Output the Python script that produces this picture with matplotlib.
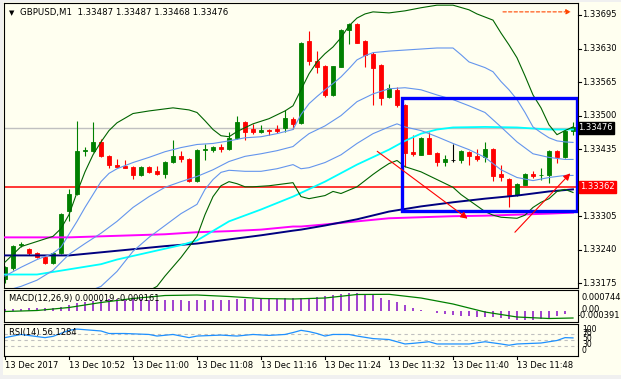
import matplotlib
matplotlib.use("Agg")
import matplotlib.pyplot as plt
from matplotlib.patches import Rectangle
import numpy as np

plt.rcParams['font.family'] = ['DejaVu Sans']

# GBPUSD M1 bars, 13 Dec 2017 10:44 .. 11:55
opens = [1.33183, 1.33204, 1.33249, 1.33241, 1.33233, 1.33226, 1.33215, 1.33233, 1.33315, 1.33349,
         1.33431, 1.33432, 1.33448, 1.33422, 1.33405, 1.33403, 1.33401, 1.33384, 1.33400, 1.33393,
         1.33387, 1.33410, 1.33421, 1.33416, 1.33373, 1.33433, 1.33433, 1.33440, 1.33435, 1.33457,
         1.33488, 1.33474, 1.33468, 1.33473, 1.33474, 1.33476, 1.33494, 1.33486, 1.33645, 1.33605,
         1.33596, 1.33540, 1.33595, 1.33665, 1.33678, 1.33645, 1.33619, 1.33598, 1.33536, 1.33550,
         1.33521, 1.33429, 1.33424, 1.33457, 1.33428, 1.33410, 1.33413, 1.33413, 1.33429, 1.33422,
         1.33419, 1.33435, 1.33386, 1.33378, 1.33347, 1.33366, 1.33387, 1.33384, 1.33384, 1.33431,
         1.33420, 1.33471]
highs = [1.33208, 1.33249, 1.33255, 1.33243, 1.33235, 1.33228, 1.33235, 1.33312, 1.33357, 1.33489,
         1.33440, 1.33487, 1.33455, 1.33423, 1.33415, 1.33413, 1.33402, 1.33402, 1.33403, 1.33403,
         1.33412, 1.33453, 1.33432, 1.33418, 1.33435, 1.33445, 1.33442, 1.33444, 1.33468, 1.33500,
         1.33490, 1.33484, 1.33482, 1.33474, 1.33482, 1.33511, 1.33498, 1.33642, 1.33663, 1.33625,
         1.33598, 1.33597, 1.33668, 1.33680, 1.33680, 1.33647, 1.33624, 1.33600, 1.33562, 1.33555,
         1.33522, 1.33463, 1.33459, 1.33468, 1.33429, 1.33424, 1.33445, 1.33433, 1.33431, 1.33435,
         1.33449, 1.33437, 1.33405, 1.33380, 1.33370, 1.33389, 1.33393, 1.33398, 1.33433, 1.33433,
         1.33473, 1.33487]
lows = [1.33175, 1.33200, 1.33245, 1.33230, 1.33224, 1.33212, 1.33213, 1.33232, 1.33295, 1.33347,
        1.33422, 1.33430, 1.33420, 1.33399, 1.33400, 1.33398, 1.33378, 1.33383, 1.33388, 1.33385,
        1.33379, 1.33409, 1.33410, 1.33372, 1.33372, 1.33413, 1.33430, 1.33429, 1.33434, 1.33455,
        1.33453, 1.33464, 1.33467, 1.33463, 1.33466, 1.33468, 1.33474, 1.33484, 1.33598, 1.33583,
        1.33536, 1.33538, 1.33594, 1.33639, 1.33640, 1.33595, 1.33521, 1.33521, 1.33535, 1.33517,
        1.33401, 1.33422, 1.33423, 1.33425, 1.33403, 1.33403, 1.33410, 1.33409, 1.33405, 1.33412,
        1.33411, 1.33373, 1.33373, 1.33323, 1.33345, 1.33365, 1.33379, 1.33375, 1.33370, 1.33408,
        1.33418, 1.33462]
closes = [1.33206, 1.33247, 1.33252, 1.33233, 1.33225, 1.33215, 1.33233, 1.33310, 1.33349, 1.33432,
          1.33433, 1.33448, 1.33422, 1.33405, 1.33401, 1.33399, 1.33384, 1.33400, 1.33390, 1.33387,
          1.33410, 1.33421, 1.33416, 1.33373, 1.33433, 1.33436, 1.33439, 1.33435, 1.33457, 1.33488,
          1.33468, 1.33469, 1.33473, 1.33471, 1.33471, 1.33495, 1.33484, 1.33640, 1.33605, 1.33594,
          1.33540, 1.33596, 1.33666, 1.33678, 1.33641, 1.33618, 1.33593, 1.33534, 1.33553, 1.33520,
          1.33428, 1.33425, 1.33457, 1.33426, 1.33411, 1.33415, 1.33413, 1.33431, 1.33421, 1.33415,
          1.33435, 1.33382, 1.33381, 1.33347, 1.33368, 1.33387, 1.33382, 1.33385, 1.33431, 1.33420,
          1.33471, 1.33478]

# band lines at the listed bars
ug_idx = [0, 2, 4, 6, 7, 8, 9, 10, 11, 12, 13, 14, 16, 18, 21, 23, 24, 25, 26, 27, 28, 29, 31, 33, 35,
          36, 37, 38, 39, 40, 41, 42, 43, 44, 45, 46, 48, 50, 52, 54, 56, 58, 59, 60, 61, 62, 63, 64,
          65, 66, 67, 68, 69, 70, 71]
bb_up2 = [1.33216, 1.33246, 1.33256, 1.33266, 1.33281, 1.33308, 1.33351, 1.33391, 1.33424, 1.33449,
          1.33471, 1.33486, 1.33504, 1.33509, 1.33515, 1.33511, 1.33506, 1.33490, 1.33473, 1.33461,
          1.33459, 1.33469, 1.33484, 1.33494, 1.33509, 1.33519, 1.33550, 1.33581, 1.33604, 1.33620,
          1.33633, 1.33651, 1.33674, 1.33689, 1.33697, 1.33701, 1.33699, 1.33703, 1.33709, 1.33714,
          1.33714, 1.33705, 1.33697, 1.33691, 1.33685, 1.33660, 1.33637, 1.33612, 1.33577, 1.33540,
          1.33515, 1.33482, 1.33463, 1.33471, 1.33478]
lg_idx = [0, 8, 16, 19, 20, 22, 24, 25, 26, 27, 28, 29, 30, 31, 33, 35, 36, 37, 38, 40, 41, 42, 44, 45,
          46, 47, 48, 49, 50, 52, 54, 56, 57, 58, 60, 61, 62, 64, 65, 66, 67, 68, 69, 70, 71]
bb_dn2 = [1.33105, 1.33086, 1.33144, 1.33169, 1.33189, 1.33225, 1.33266, 1.33308, 1.33343, 1.33364,
          1.33372, 1.33368, 1.33362, 1.33362, 1.33364, 1.33368, 1.33370, 1.33343, 1.33339, 1.33345,
          1.33353, 1.33349, 1.33362, 1.33374, 1.33386, 1.33397, 1.33407, 1.33413, 1.33401, 1.33391,
          1.33376, 1.33361, 1.33347, 1.33336, 1.33314, 1.33307, 1.33303, 1.33301, 1.33307, 1.33322,
          1.33332, 1.33339, 1.33353, 1.33357, 1.33351]
a_idx = [0, 2, 4, 6, 7, 8, 9, 10, 11, 12, 13, 14, 16, 18, 20, 22, 24, 26, 28, 30, 32, 34, 36, 37, 38,
         39, 40, 41, 42, 43, 44, 45, 46, 48, 50, 52, 54, 56, 57, 58, 60, 61, 62, 63, 64, 65, 66, 67,
         68, 69, 70, 71]
bb_up1 = [1.33189, 1.33206, 1.33221, 1.33233, 1.33245, 1.33270, 1.33295, 1.33322, 1.33347, 1.33372,
          1.33388, 1.33397, 1.33409, 1.33419, 1.33430, 1.33438, 1.33444, 1.33446, 1.33451, 1.33457,
          1.33459, 1.33465, 1.33473, 1.33502, 1.33523, 1.33537, 1.33550, 1.33562, 1.33575, 1.33591,
          1.33608, 1.33616, 1.33622, 1.33625, 1.33627, 1.33629, 1.33631, 1.33631, 1.33618, 1.33604,
          1.33593, 1.33585, 1.33566, 1.33550, 1.33531, 1.33506, 1.33478, 1.33467, 1.33457, 1.33451,
          1.33449, 1.33448]
b_idx = [0, 2, 4, 6, 8, 10, 12, 14, 16, 18, 20, 22, 24, 26, 28, 30, 32, 34, 36, 37, 38, 40, 42, 44,
         46, 48, 50, 52, 54, 56, 58, 60, 62, 64, 66, 68, 70, 71]
bb_mid = [1.33160, 1.33169, 1.33181, 1.33200, 1.33231, 1.33252, 1.33272, 1.33295, 1.33322, 1.33343,
          1.33361, 1.33372, 1.33382, 1.33395, 1.33411, 1.33421, 1.33426, 1.33432, 1.33440, 1.33453,
          1.33465, 1.33480, 1.33500, 1.33527, 1.33542, 1.33552, 1.33554, 1.33550, 1.33540, 1.33531,
          1.33519, 1.33506, 1.33478, 1.33449, 1.33426, 1.33419, 1.33415, 1.33415]
c_idx = [0, 4, 8, 12, 14, 16, 18, 20, 22, 24, 25, 26, 27, 28, 30, 32, 34, 36, 37, 38, 40, 42, 44, 46,
         48, 49, 50, 52, 54, 56, 58, 60, 62, 64, 66, 68, 70, 71]
bb_dn1 = [1.33144, 1.33134, 1.33144, 1.33169, 1.33198, 1.33237, 1.33264, 1.33287, 1.33310, 1.33328,
          1.33357, 1.33376, 1.33390, 1.33394, 1.33392, 1.33392, 1.33397, 1.33405, 1.33397, 1.33399,
          1.33409, 1.33424, 1.33446, 1.33465, 1.33478, 1.33484, 1.33478, 1.33471, 1.33459, 1.33446,
          1.33434, 1.33419, 1.33395, 1.33380, 1.33374, 1.33380, 1.33384, 1.33384]

# moving averages
cy_idx = [0, 4, 8, 12, 14, 18, 22, 24, 28, 32, 36, 40, 44, 48, 50, 52, 54, 56, 60, 64, 68, 71]
ma_cyan = [1.33192, 1.33192, 1.33202, 1.33212, 1.33221, 1.33235, 1.33249, 1.33258, 1.33295, 1.33318,
           1.33343, 1.33372, 1.33405, 1.33434, 1.33451, 1.33465, 1.33473, 1.33477, 1.33478, 1.33477,
           1.33473, 1.33473]
ma_idx = [0, 4, 8, 12, 16, 20, 24, 28, 32, 36, 37, 40, 44, 48, 52, 56, 60, 64, 68, 71]
ma_navy = [1.33229, 1.33229, 1.33229, 1.33235, 1.33241, 1.33247, 1.33252, 1.33260, 1.33268, 1.33277,
           1.33279, 1.33287, 1.33299, 1.33314, 1.33324, 1.33332, 1.33339, 1.33345, 1.33353, 1.33357]
ma_magenta = [1.33264, 1.33264, 1.33264, 1.33266, 1.33268, 1.33270, 1.33274, 1.33276, 1.33279, 1.33285,
              1.33285, 1.33289, 1.33295, 1.33301, 1.33303, 1.33305, 1.33306, 1.33308, 1.33310, 1.33312]

support = 1.33362
bid = 1.33476
price_ticks = [1.33695, 1.33630, 1.33565, 1.33500, 1.33435, 1.33305, 1.33240, 1.33175]

macd_hist = [0.000084, 0.000084, 0.000097, 0.000113, 0.000113, 0.000126, 0.000139, 0.000181, 0.000252, 0.000323,
             0.000391, 0.000433, 0.000462, 0.000491, 0.000504, 0.000525, 0.000504, 0.000504, 0.000483, 0.000462,
             0.000462, 0.000462, 0.000462, 0.000441, 0.000462, 0.000462, 0.000462, 0.000462, 0.000483, 0.000504,
             0.000525, 0.000525, 0.000525, 0.000525, 0.000525, 0.000546, 0.000546, 0.000533, 0.000559, 0.000601,
             0.000630, 0.000672, 0.000714, 0.000743, 0.000744, 0.000701, 0.000672, 0.000559, 0.000462, 0.000391,
             0.000252, 0.000139, 0.000042, -0.000013, -0.000097, -0.000139, -0.000168, -0.000197, -0.000210, -0.000239,
             -0.000239, -0.000265, -0.000281, -0.000330, -0.000370, -0.000391, -0.000380, -0.000340, -0.000290, -0.000210,
             -0.000140, 0.000019]
sig_idx = [0, 4, 8, 12, 16, 20, 24, 28, 32, 36, 40, 44, 48, 52, 56, 60, 64, 68, 71]
macd_signal = [-0.000021, 0.000021, 0.000147, 0.000357, 0.000525, 0.000651, 0.000672, 0.000609, 0.000525, 0.000504,
               0.000546, 0.000693, 0.000701, 0.000546, 0.000294, -0.000042, -0.000252, -0.000315, -0.000294]

rsi_idx = [0, 2, 5, 6, 8, 9, 12, 13, 15, 18, 19, 21, 23, 24, 27, 29, 31, 33, 35, 36, 37, 38, 39, 40, 41,
           43, 44, 46, 48, 49, 50, 51, 53, 54, 58, 60, 62, 63, 64, 67, 69, 70, 71]
rsi_vals = [57, 67, 57, 61, 80, 84, 78, 70, 70, 67, 62, 67, 57, 62, 65, 62, 67, 64, 67, 73, 80, 76, 70, 62, 67,
            67, 62, 54, 51, 44, 37, 39, 44, 37, 37, 44, 37, 33, 37, 40, 48, 57, 56.13]

time_idx = [0, 8, 16, 24, 32, 40, 48, 56, 64]
time_labels = ['13 Dec 2017', '13 Dec 10:52', '13 Dec 11:00', '13 Dec 11:08', '13 Dec 11:16',
               '13 Dec 11:24', '13 Dec 11:32', '13 Dec 11:40', '13 Dec 11:48']

W, H = 621, 379
IVORY = '#FFFFF0'


def box(l, t, r, b):
    return [l / W, 1 - b / H, (r - l) / W, (b - t) / H]


def ftext(xp, yp, s, **kw):
    fig.text(xp / W, 1 - yp / H, s, va='center', **kw)


fig = plt.figure(figsize=(W / 100, H / 100), dpi=100, facecolor='#F0F0F0')
fig.patches.append(Rectangle((3 / W, 1 - 375 / H), 618 / W, 373 / H, transform=fig.transFigure,
                             facecolor=IVORY, edgecolor='none', zorder=-10))

xlim = (-0.125, 71.625)

# ---- main price panel
ax = fig.add_axes(box(4, 3, 578, 287.5))
ax.set_facecolor(IVORY)
ax.set_xlim(*xlim)
ax.set_ylim(1.3316683, 1.3371820)
ax.set_xticks([])
ax.set_yticks([])
for s in ax.spines.values():
    s.set_linewidth(0.8)

ax.axhline(bid, color='#C0C0C0', lw=1.0, zorder=1)
ax.axhline(support, color='red', lw=1.1, zorder=1)

xs = np.arange(len(opens))
o = np.array(opens)
c = np.array(closes)
cols = np.where(c > o, '#008000', np.where(c < o, '#FF0000', 'black'))
ax.vlines(xs, lows, highs, colors=cols, lw=0.8, zorder=2)
ax.bar(xs, np.abs(c - o), bottom=np.minimum(o, c), width=0.58, color=cols,
       edgecolor=cols, linewidth=0.6, zorder=2)

ax.plot(ma_idx, ma_magenta, color='#FF00FF', lw=1.4, zorder=3)
ax.plot(ma_idx, ma_navy, color='#000080', lw=1.4, zorder=3)
ax.plot(cy_idx, ma_cyan, color='#00FFFF', lw=1.3, zorder=3)
ax.plot(a_idx, bb_up1, color='#6495ED', lw=0.8, zorder=3)
ax.plot(b_idx, bb_mid, color='#6495ED', lw=0.8, zorder=3)
ax.plot(c_idx, bb_dn1, color='#6495ED', lw=0.8, zorder=3)
ax.plot(ug_idx, bb_up2, color='#006400', lw=0.8, zorder=3)
ax.plot(lg_idx, bb_dn2, color='#006400', lw=0.8, zorder=3)

ax.add_patch(Rectangle((49.6, 1.33316), 71.5 - 49.6, 1.33534 - 1.33316, fill=False,
                       edgecolor='#0000FF', lw=2.4, zorder=4))
ax.annotate('', xy=(58.1, 1.33297), xytext=(46.25, 1.33434),
            arrowprops=dict(arrowstyle='-|>', color='red', lw=0.8, mutation_scale=10), zorder=5)
ax.annotate('', xy=(70.9, 1.33392), xytext=(63.5, 1.33270),
            arrowprops=dict(arrowstyle='-|>', color='red', lw=0.8, mutation_scale=10), zorder=5)
ax.annotate('', xy=(71.1, 1.33701), xytext=(61.9, 1.33701),
            arrowprops=dict(arrowstyle='-|>', color='#FF4500', lw=0.8, ls=(0, (3, 2)),
                            mutation_scale=7), zorder=5)

ty = ax.get_yaxis_transform()
for p in price_ticks:
    ax.plot([1.0, 1.006], [p, p], transform=ty, color='black', lw=0.8, clip_on=False)
    ax.text(1.008, p, f'{p:.5f}', transform=ty, ha='left', va='center', fontsize=6)
ax.text(1.0, bid, f'{bid:.5f}', transform=ty, ha='left', va='center', fontsize=6, color='white',
        bbox=dict(boxstyle='square,pad=0.18', facecolor='black', edgecolor='black'))
ax.text(1.004, support, f'{support:.5f}', transform=ty, ha='left', va='center', fontsize=6,
        color='white', bbox=dict(boxstyle='square,pad=0.18', facecolor='#FF0000', edgecolor='#FF0000'))

ftext(11.5, 13, '\u25BC', fontsize=5, ha='center')
ftext(20, 13, 'GBPUSD,M1  1.33487 1.33487 1.33468 1.33476', fontsize=6.2, ha='left')

# ---- MACD panel
axm = fig.add_axes(box(4, 289.5, 578, 322))
axm.set_facecolor(IVORY)
axm.set_xlim(*xlim)
axm.set_ylim(-0.000462, 0.000903)
axm.set_xticks([])
axm.set_yticks([])
for s in axm.spines.values():
    s.set_linewidth(0.8)
axm.vlines(xs, 0, macd_hist, colors='#9932CC', lw=1.3)
axm.plot(sig_idx, macd_signal, color='#008000', lw=0.9)
ftext(9, 298, 'MACD(12,26,9) 0.000019 -0.000161', fontsize=6, ha='left')
ftext(582, 297.7, '0.000744', fontsize=6, ha='left')
ftext(582, 309.0, '0.00', fontsize=6, ha='left')
ftext(578, 316.0, '-0.000391', fontsize=6, ha='left')

# ---- RSI panel
axr = fig.add_axes(box(4, 324, 578, 355.7))
axr.set_facecolor(IVORY)
axr.set_xlim(*xlim)
axr.set_ylim(0, 100)
axr.set_xticks([])
axr.set_yticks([])
for s in axr.spines.values():
    s.set_linewidth(0.8)
for lvl in (70, 50, 30):
    axr.axhline(lvl, color='#C0C0C0', lw=0.8, ls=(0, (3, 3)))
axr.plot(rsi_idx, rsi_vals, color='#1E90FF', lw=0.9)
ftext(9, 333, 'RSI(14) 56.1284', fontsize=6, ha='left')
for lab, yp in (('100', 329.5), ('70', 333.0), ('50', 338.5), ('30', 344.5), ('0', 350.5)):
    ftext(582, yp, lab, fontsize=5.5, ha='left')

tx = axr.get_xaxis_transform()
for t, lab in zip(time_idx, time_labels):
    axr.plot([t, t], [0, -0.1], transform=tx, color='black', lw=0.8, clip_on=False)
    axr.text(t, -0.32, lab, transform=tx, ha='left', va='center', fontsize=6)

fig.savefig('out.png', dpi=100, facecolor=fig.get_facecolor())
